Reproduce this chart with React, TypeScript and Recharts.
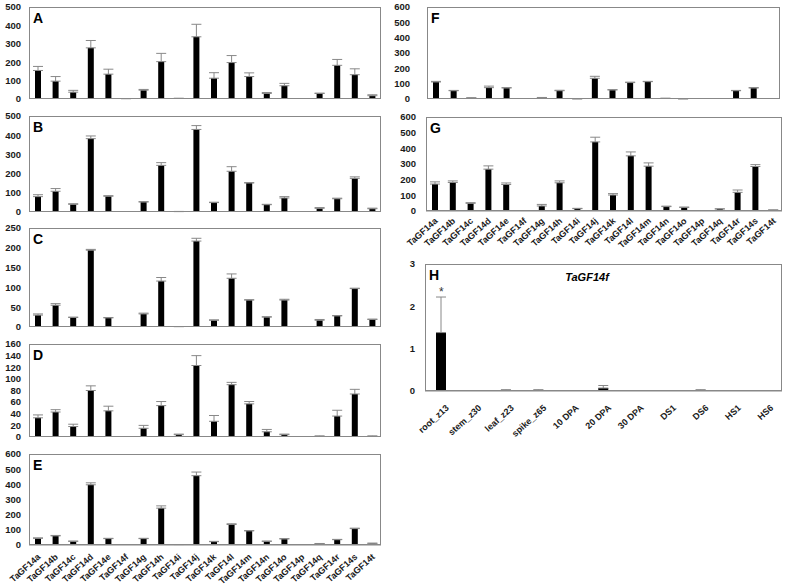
import { BarChart, Bar, XAxis, YAxis, ErrorBar, ReferenceDot } from 'recharts';

const genes = [
  'TaGF14a', 'TaGF14b', 'TaGF14c', 'TaGF14d', 'TaGF14e', 'TaGF14f', 'TaGF14g',
  'TaGF14h', 'TaGF14i', 'TaGF14j', 'TaGF14k', 'TaGF14l', 'TaGF14m', 'TaGF14n',
  'TaGF14o', 'TaGF14p', 'TaGF14q', 'TaGF14r', 'TaGF14s', 'TaGF14t',
];

const aVals = [155, 97, 37, 278, 135, 2, 48, 203, 3, 338, 113, 198, 122, 30, 72, 0, 30, 183, 132, 18];
const aErr = [22, 25, 10, 40, 27, 0, 4, 45, 1, 68, 30, 38, 20, 5, 13, 0, 2, 32, 32, 5];

const bVals = [80, 108, 40, 382, 82, 0, 52, 243, 2, 430, 49, 212, 151, 38, 73, 0, 19, 69, 175, 17];
const bErr = [10, 14, 3, 14, 3, 0, 2, 14, 1, 20, 2, 24, 2, 2, 7, 0, 4, 3, 8, 3];

const cVals = [30, 55, 24, 194, 23, 0, 33, 116, 1, 217, 17, 123, 68, 25, 68, 0, 17, 28, 97, 19];
const cErr = [3, 4, 1, 2, 1, 0, 2, 9, 0, 7, 1, 11, 1, 1, 2, 0, 2, 1, 1, 1];

const dVals = [33, 43, 18, 80, 45, 0, 15, 54, 4, 123, 27, 90, 57, 9, 4, 0, 1, 36, 74, 1];
const dErr = [5, 4, 4, 8, 8, 0, 5, 7, 1, 17, 10, 4, 4, 4, 1, 0, 1, 10, 8, 1];

const eVals = [44, 60, 24, 397, 42, 0, 42, 243, 3, 457, 22, 135, 93, 24, 40, 0, 9, 35, 108, 11];
const eErr = [3, 3, 2, 13, 2, 0, 2, 15, 0, 24, 2, 5, 2, 2, 2, 0, 1, 2, 3, 1];

const fVals = [111, 54, 7, 74, 72, 0, 9, 54, 1, 135, 59, 107, 113, 4, 1, 0, 0, 54, 72, 0];
const fErr = [4, 2, 1, 10, 2, 0, 1, 3, 0, 13, 2, 3, 2, 1, 0, 0, 0, 2, 2, 0];

const gVals = [172, 182, 49, 267, 169, 0, 32, 180, 15, 441, 102, 352, 286, 28, 23, 0, 13, 119, 284, 6];
const gErr = [14, 10, 4, 21, 10, 0, 10, 12, 2, 30, 9, 25, 21, 3, 2, 0, 1, 15, 12, 1];

const tissues = ['root_z13', 'stem_z30', 'leaf_z23', 'spike_z65', '10 DPA', '20 DPA', '30 DPA', 'DS1', 'DS6', 'HS1', 'HS6'];
const hVals = [1.38, 0, 0.02, 0.02, 0, 0.07, 0, 0, 0.02, 0, 0];
const hErr = [0.84, 0, 0.01, 0.01, 0, 0.06, 0, 0, 0.01, 0, 0];

const ticks500 = [0, 100, 200, 300, 400, 500];
const ticks250 = [0, 50, 100, 150, 200, 250];
const ticks160 = [0, 20, 40, 60, 80, 100, 120, 140, 160];
const ticks600 = [0, 100, 200, 300, 400, 500, 600];
const ticks3 = [0, 1, 2, 3];

const FONT = 'Arial, "Liberation Sans", sans-serif';
const GRAY = '#888888';

function rows(names: string[], vals: number[], errs: number[]) {
  return names.map((n, i) => ({ name: n, v: vals[i], e: [0, errs[i]] }));
}

interface PanelProps {
  left: number;
  top: number;
  w: number;
  h: number;
  yW: number;
  tickMargin: number;
  data: Array<{ name: string; v: number; e: number[] }>;
  ticks: number[];
  letter: string;
  labels?: boolean;
  xH?: number;
  lx?: number;
  ly?: number;
  barSize?: number;
  star?: boolean;
}

function Panel({ left, top, w, h, yW, tickMargin, data, ticks, letter, labels, xH = 0, lx = 0, ly = 8, barSize = 6, star }: PanelProps) {
  const mTop = 6;
  const mRight = 4;
  const mBottom = labels ? 0 : 6;
  const xHeight = labels ? xH : 0;
  const max = ticks[ticks.length - 1];
  return (
    <div style={{ position: 'absolute', left: left - yW, top: top - mTop }}>
      <BarChart
        width={yW + w + mRight}
        height={mTop + h + xHeight + mBottom}
        data={data}
        margin={{ top: mTop, right: mRight, left: 0, bottom: mBottom }}
      >
        <XAxis
          dataKey="name"
          height={xHeight}
          interval={0}
          axisLine={{ stroke: GRAY }}
          tickLine={false}
          tickSize={0}
          tickMargin={ly}
          tick={
            labels
              ? {
                  angle: -42,
                  textAnchor: 'end',
                  verticalAnchor: 'middle',
                  dx: lx,
                  fontSize: 9,
                  fontWeight: 'bold',
                  fill: '#1a1a1a',
                  fontFamily: FONT,
                }
              : false
          }
        />
        <YAxis
          type="number"
          domain={[0, max]}
          ticks={ticks}
          width={yW}
          axisLine={false}
          tickLine={false}
          tickMargin={tickMargin}
          interval={0}
          tick={{ fontSize: 9.5, fontWeight: 'bold', fill: '#1a1a1a', fontFamily: FONT }}
        />
        <Bar dataKey="v" fill="#000" barSize={barSize} isAnimationActive={false}>
          <ErrorBar dataKey="e" width={5} stroke={GRAY} strokeWidth={1} direction="y" />
        </Bar>
        {star && (
          <ReferenceDot
            x={data[0].name}
            y={data[0].v + data[0].e[1]}
            r={0}
            label={{ value: '*', position: 'top', fontSize: 12, fill: '#333', offset: 1 }}
          />
        )}
      </BarChart>
      <div
        style={{
          position: 'absolute',
          left: yW,
          top: mTop,
          width: w,
          height: h,
          border: `1px solid ${GRAY}`,
          boxSizing: 'border-box',
          pointerEvents: 'none',
        }}
      />
      <div
        style={{
          position: 'absolute',
          left: yW + 4,
          top: mTop + 4,
          fontSize: 14,
          fontWeight: 'bold',
          fontFamily: FONT,
          lineHeight: 1,
          color: '#000',
        }}
      >
        {letter}
      </div>
    </div>
  );
}

export default function App() {
  return (
    <div style={{ position: 'absolute', left: 0, top: 0, width: 787, height: 587, background: '#fff', fontFamily: FONT }}>
      <Panel left={29} top={7} w={352} h={92} yW={29} tickMargin={2} data={rows(genes, aVals, aErr)} ticks={ticks500} letter="A" />
      <Panel left={29} top={116} w={352} h={96} yW={29} tickMargin={2} data={rows(genes, bVals, bErr)} ticks={ticks500} letter="B" />
      <Panel left={29} top={228} w={352} h={99} yW={29} tickMargin={2} data={rows(genes, cVals, cErr)} ticks={ticks250} letter="C" />
      <Panel left={29} top={344} w={352} h={93} yW={29} tickMargin={2} data={rows(genes, dVals, dErr)} ticks={ticks160} letter="D" />
      <Panel left={29} top={454} w={352} h={91} yW={29} tickMargin={2} data={rows(genes, eVals, eErr)} ticks={ticks600} letter="E" labels xH={42} lx={-1} ly={8} />
      <Panel left={427} top={7} w={353} h={92} yW={37} tickMargin={11} data={rows(genes, fVals, fErr)} ticks={ticks600} letter="F" />
      <Panel left={426} top={117} w={356} h={94} yW={30} tickMargin={4} data={rows(genes, gVals, gErr)} ticks={ticks600} letter="G" labels xH={42} lx={-1} ly={6} />
      <Panel left={425} top={264} w={357} h={127} yW={20} tickMargin={4} data={rows(tissues, hVals, hErr)} ticks={ticks3} letter="H" labels xH={50} lx={4} ly={13} barSize={10} star />
      <div
        style={{
          position: 'absolute',
          left: 547,
          top: 271,
          width: 80,
          textAlign: 'center',
          fontSize: 11,
          fontWeight: 'bold',
          fontStyle: 'italic',
          fontFamily: FONT,
        }}
      >
        TaGF14f
      </div>
    </div>
  );
}
